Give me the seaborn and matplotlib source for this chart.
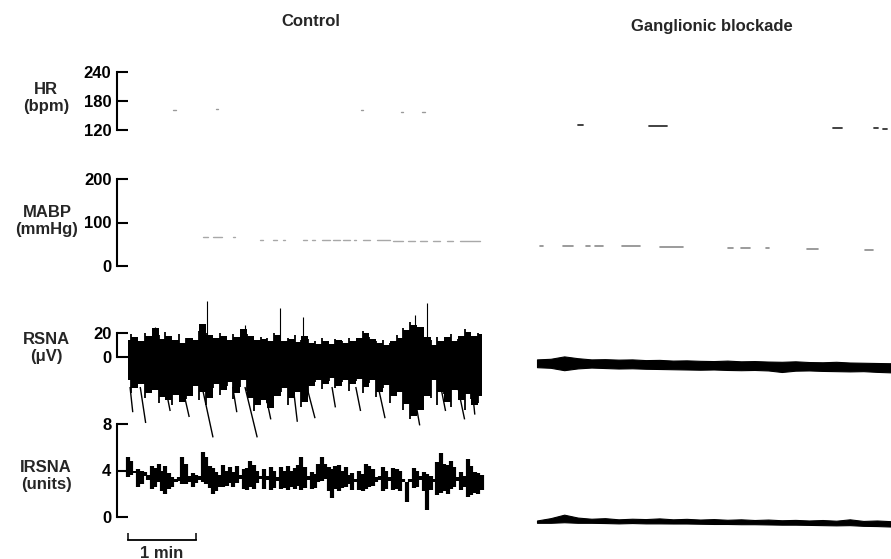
import numpy as np
import pandas as pd
import matplotlib
matplotlib.use("Agg")
import matplotlib.pyplot as plt
import seaborn as sns

# ---- data (time in minutes from start of each trace) ----
# RSNA control: envelope of the raw nerve signal (uV), sampled every 0.1 min
t_rsna = np.round(np.arange(0, 5.21, 0.1), 2)
rsna_ctl_hi = [14, 17, 13, 17.5, 24, 15, 17.5, 14, 11.5, 16, 14, 27.5, 18, 16, 17.5, 14, 16.5, 23,
               17.5, 14, 15, 13, 18, 13, 15, 12.5, 17.5, 11.5, 11, 13, 11, 14, 11.5, 13, 16, 20,
               15, 11.5, 10, 13, 16, 22.5, 26.5, 25, 16.5, 10, 13, 16.5, 13, 17.5, 21, 17.5, 19]
rsna_ctl_lo = [-19, -26, -22.5, -30, -27.5, -33, -36, -32, -37.5, -32.5, -24, -29, -34, -22.5,
               -27.5, -21, -30, -19, -34, -40, -36, -42.5, -32.5, -26, -34, -29, -37.5, -24, -19,
               -22.5, -17.5, -24, -19, -22.5, -18, -25, -19, -29, -23, -32.5, -29, -39, -49, -44,
               -32.5, -19, -29, -37.5, -27.5, -36, -31, -40, -32.5]
# extra hairs between the samples (t = 0.05, 0.15, ...)
t_hair = np.round(np.arange(0.05, 5.2, 0.1), 2)
hair_hi = [19, 12, 20, 15, 18, 21, 12, 19, 16, 13, 22, 20, 14, 20, 12, 19, 13, 19, 12, 17, 16, 20,
           11, 16, 18, 14, 15, 13, 16, 9, 15, 13, 16, 12, 22, 17, 13, 14, 12, 18, 24, 29, 22, 12,
           14, 17, 12, 19, 15, 23, 15, 20]
hair_lo = [-30, -20, -34, -25, -38, -28, -40, -30, -35, -22, -36, -40, -26, -32, -24, -35, -25,
           -28, -45, -33, -38, -30, -29, -40, -24, -42, -30, -21, -27, -20, -26, -21, -28, -20,
           -30, -22, -33, -26, -38, -25, -44, -52, -38, -24, -34, -40, -31, -42, -26, -44, -35, -38]
# thin upward spikes
spike_t = [0.40, 1.16, 1.72, 2.24, 2.57, 4.22, 4.40]
spike_v = [25, 47, 27, 41, 33, 35, 45]
# slanted pen streaks below the band
streak_t0 = [0.03, 0.18, 0.55, 0.80, 1.09, 1.54, 1.72, 2.00, 2.43, 2.63, 3.00, 3.35, 3.68, 4.19, 4.60, 4.85, 5.06]
streak_t1 = [0.07, 0.26, 0.62, 0.90, 1.25, 1.60, 1.90, 2.10, 2.49, 2.75, 3.05, 3.42, 3.78, 4.29, 4.67, 4.95, 5.10]
streak_v = [-46, -55, -45, -50, -67, -46, -67, -52, -54, -51, -42, -45, -51, -57, -45, -52, -48]

# IRSNA control (units), range at every 0.05 min
t_irsna = np.round(np.arange(0, 5.21, 0.05), 2)
irsna_ctl_lo = [3.4, 3.6, 3.8, 2.6, 2.8, 3.5, 3.2, 2.4, 2.6, 3.0, 2.2, 2.0, 2.4, 2.6, 3.0, 3.1, 2.8,
                2.8, 3.0, 2.6, 2.9, 3.2, 3.0, 2.8, 2.5, 2.0, 2.2, 2.6, 2.6, 2.7, 2.9, 2.6, 2.9, 3.3,
                2.4, 2.3, 2.6, 2.4, 2.9, 3.3, 2.4, 3.2, 2.3, 2.5, 3.1, 2.4, 2.5, 2.3, 2.6, 2.4, 2.7,
                2.3, 2.5, 3.2, 2.4, 2.5, 3.0, 3.1, 3.3, 2.2, 1.6, 2.4, 2.2, 2.5, 2.6, 2.8, 2.3, 3.0,
                2.3, 2.2, 2.4, 2.6, 2.7, 3.0, 3.2, 2.2, 2.4, 3.1, 2.3, 2.4, 2.2, 3.0, 1.3, 3.0, 2.5,
                2.6, 3.2, 2.2, 0.6, 2.3, 3.0, 1.9, 2.1, 2.2, 2.0, 2.4, 2.6, 3.1, 2.3, 2.6, 1.7, 1.9,
                2.1, 2.0, 2.3]
irsna_ctl_hi = [5.2, 4.8, 4.0, 4.1, 4.0, 3.9, 3.6, 4.4, 4.2, 4.6, 4.0, 4.4, 3.8, 3.4, 3.3, 3.4, 5.2,
                4.6, 3.5, 3.8, 3.6, 3.5, 5.6, 5.2, 4.4, 4.2, 3.9, 3.6, 4.5, 4.0, 4.3, 3.9, 4.4, 3.6,
                4.1, 4.2, 4.8, 4.5, 4.0, 3.5, 4.1, 3.5, 4.3, 4.0, 3.4, 4.3, 4.0, 4.4, 4.0, 4.2, 4.5,
                5.2, 4.3, 3.5, 3.9, 3.7, 4.6, 5.2, 4.6, 4.3, 4.1, 4.4, 4.5, 4.0, 4.3, 3.6, 3.8, 3.3,
                4.0, 3.7, 4.6, 4.4, 4.1, 3.4, 3.5, 4.3, 4.0, 3.4, 4.2, 4.1, 4.0, 3.3, 3.0, 3.3, 4.2,
                4.0, 3.5, 3.9, 3.7, 3.5, 3.3, 4.7, 5.5, 4.6, 4.5, 4.8, 4.3, 3.4, 3.9, 3.5, 5.0, 4.4,
                3.9, 3.8, 3.6]

# ganglionic blockade traces, every 0.2 min
t_gb = np.round(np.arange(0, 5.21, 0.2), 2)
rsna_gb_hi = [-2.0, -1.5, 0.5, -1.0, -2.0, -1.8, -2.2, -2.0, -2.6, -2.4, -3.0, -2.8, -3.2, -3.4,
              -3.0, -3.6, -3.4, -3.8, -4.0, -3.6, -4.2, -4.4, -4.0, -4.6, -4.8, -5.0, -5.2]
rsna_gb_lo = [-8.5, -9.0, -11.0, -9.5, -8.8, -9.2, -9.6, -9.4, -9.8, -10.0, -10.2, -10.4, -10.6,
              -10.4, -10.8, -11.0, -10.8, -11.2, -12.5, -11.4, -11.2, -11.6, -11.8, -12.0, -11.8,
              -12.4, -12.8]
irsna_gb_hi = [-0.30, -0.10, 0.20, -0.05, -0.15, -0.10, -0.20, -0.15, -0.18, -0.12, -0.20, -0.16,
               -0.22, -0.18, -0.24, -0.20, -0.26, -0.22, -0.28, -0.25, -0.30, -0.26, -0.32, -0.20,
               -0.34, -0.30, -0.36]
irsna_gb_lo = [-0.50, -0.50, -0.45, -0.50, -0.50, -0.52, -0.55, -0.52, -0.55, -0.55, -0.56, -0.56,
               -0.58, -0.60, -0.60, -0.62, -0.62, -0.64, -0.66, -0.66, -0.68, -0.70, -0.72, -0.70,
               -0.76, -0.78, -0.82]

# HR (bpm) and MABP (mmHg): faint pen segments (start, end, value)
hr_ctl_t0 = [0.66, 1.29, 3.42, 4.01, 4.33]
hr_ctl_t1 = [0.70, 1.33, 3.46, 4.05, 4.37]
hr_ctl_v = [160.5, 162.5, 160.5, 156.5, 156.5]
hr_gb_t0 = [0.60, 1.65, 4.35, 4.96, 5.09]
hr_gb_t1 = [0.68, 1.91, 4.49, 5.01, 5.15]
hr_gb_v = [129, 127, 123, 123, 122]

mabp_ctl_t0 = [1.10, 1.25, 1.54, 1.94, 2.13, 2.28, 2.57, 2.71, 2.85, 3.01, 3.16, 3.33, 3.46, 3.66,
               3.90, 4.12, 4.29, 4.49, 4.69, 4.88]
mabp_ctl_t1 = [1.18, 1.38, 1.57, 1.99, 2.19, 2.31, 2.63, 2.75, 2.97, 3.12, 3.26, 3.36, 3.56, 3.85,
               4.04, 4.22, 4.40, 4.59, 4.78, 5.18]
mabp_ctl_v = [66.7, 66.7, 66, 60, 60, 60, 60, 59, 60, 59, 59, 59, 59, 59, 58, 58, 58, 58, 58, 57]
mabp_gb_t0 = [0.04, 0.38, 0.72, 0.85, 1.25, 1.81, 2.81, 3.00, 3.37, 3.97, 4.82]
mabp_gb_t1 = [0.09, 0.53, 0.78, 0.97, 1.51, 2.15, 2.88, 3.13, 3.41, 4.13, 4.94]
mabp_gb_v = [47, 46, 46, 46, 45, 44, 42, 42, 41, 39, 37]

# ---- figure ----
sns.set_style("white")
plt.rcParams['font.family'] = ['Liberation Sans', 'DejaVu Sans']
plt.rcParams['font.weight'] = 'bold'

W, H = 891, 559
fig = plt.figure(figsize=(W / 100, H / 100), dpi=100)

PPM = 68.0  # pixels per minute
# row: (anchor value, anchor pixel y, pixels per unit, band top, band bottom)
rows = {
    'HR': (120, 129.5, 0.479, 55, 145),
    'MABP': (0, 266, 0.435, 165, 285),
    'RSNA': (0, 357, 1.2, 285, 452),
    'IRSNA': (0, 517, 11.625, 412, 559),
}


def make_ax(row, x0, x1, t0px):
    v, ya, ppu, y0, y1 = rows[row]
    ax = fig.add_axes([x0 / W, 1 - y1 / H, (x1 - x0) / W, (y1 - y0) / H])
    ax.patch.set_alpha(0)
    ax.set_xlim((x0 - t0px) / PPM, (x1 - t0px) / PPM)
    ax.set_ylim(v - (y1 - ya) / ppu, v + (ya - y0) / ppu)
    for s in ax.spines.values():
        s.set_visible(False)
    ax.set_xticks([])
    ax.set_yticks([])
    return ax


def val_at(row, ypx):
    v, ya, ppu, _, _ = rows[row]
    return v + (ya - ypx) / ppu


def segments(ax, t0, t1, vals, color, lw):
    n = len(vals)
    df = pd.DataFrame({'t': list(t0) + list(t1), 'v': list(vals) * 2, 'seg': list(range(n)) * 2})
    sns.lineplot(data=df, x='t', y='v', units='seg', estimator=None, color=color,
                 lw=lw, ax=ax, legend=False)
    ax.set_xlabel('')
    ax.set_ylabel('')


ctl = {r: make_ax(r, 117, 495, 128) for r in rows}
gb = {r: make_ax(r, 530, 891, 537) for r in rows}

# y-scale brackets on control column
scales = {'HR': [120, 180, 240], 'MABP': [0, 100, 200], 'RSNA': [0, 20], 'IRSNA': [0, 4, 8]}
for r, ticks in scales.items():
    ax = ctl[r]
    ax.spines['left'].set_visible(True)
    ax.spines['left'].set_linewidth(1.5)
    ax.spines['left'].set_color('black')
    ax.spines['left'].set_bounds(ticks[0], ticks[-1])
    ax.set_yticks(ticks)
    ax.set_yticklabels([str(t) for t in ticks])
    ax.tick_params(axis='y', direction='in', length=8, width=1.5, pad=4, labelsize=12,
                   left=True, colors='black')

# 1 min scale bar
ax = ctl['IRSNA']
ax.spines['bottom'].set_visible(True)
ax.spines['bottom'].set_linewidth(1.3)
ax.spines['bottom'].set_color('black')
ax.spines['bottom'].set_position(('data', val_at('IRSNA', 540)))
ax.spines['bottom'].set_bounds(0, 1)
ax.set_xticks([0, 1])
ax.tick_params(axis='x', direction='in', length=5, width=1.3, bottom=True, labelbottom=False)
ax.text(0.5, val_at('IRSNA', 553), '1 min', ha='center', va='center', fontsize=12)

# HR
segments(ctl['HR'], hr_ctl_t0, hr_ctl_t1, hr_ctl_v, '#9a9a9a', 1.0)
segments(gb['HR'], hr_gb_t0, hr_gb_t1, hr_gb_v, '#333333', 1.3)
# MABP
segments(ctl['MABP'], mabp_ctl_t0, mabp_ctl_t1, mabp_ctl_v, '#a8a8a8', 1.0)
segments(gb['MABP'], mabp_gb_t0, mabp_gb_t1, mabp_gb_v, '#8a8a8a', 1.2)

# RSNA control: blocky envelope plus hairs
ax = ctl['RSNA']
ax.fill_between(t_rsna, rsna_ctl_lo, rsna_ctl_hi, step='mid', color='black', lw=0)
ax.vlines(t_hair, hair_lo, hair_hi, color='black', lw=1.3)
ax.vlines(spike_t, 10, spike_v, color='black', lw=0.8)
for a, b, v in zip(streak_t0, streak_t1, streak_v):
    ax.plot([a, b], [-25, v], color='black', lw=1.0, solid_capstyle='butt')

# RSNA ganglionic
gb['RSNA'].fill_between(t_gb, rsna_gb_lo, rsna_gb_hi, color='black', lw=0.8)

# IRSNA control
ctl['IRSNA'].vlines(t_irsna, irsna_ctl_lo, irsna_ctl_hi, color='black', lw=3.0)
# IRSNA ganglionic
gb['IRSNA'].fill_between(t_gb, irsna_gb_lo, irsna_gb_hi, color='black', lw=0.8)

# titles and row labels


def ftext(x, y, s, **kw):
    fig.text(x / W, 1 - y / H, s, ha='center', va='center', fontsize=12, **kw)


ftext(311, 22, 'Control')
ftext(712, 27, 'Ganglionic blockade')
ftext(46, 98, 'HR\n(bpm)', linespacing=1.1)
ftext(47, 221, 'MABP\n(mmHg)', linespacing=1.1)
ftext(46, 348, 'RSNA\n(\u03bcV)', linespacing=1.1)
ftext(46, 476, 'IRSNA\n(units)', linespacing=1.1)

fig.savefig('out.png', dpi=100)
